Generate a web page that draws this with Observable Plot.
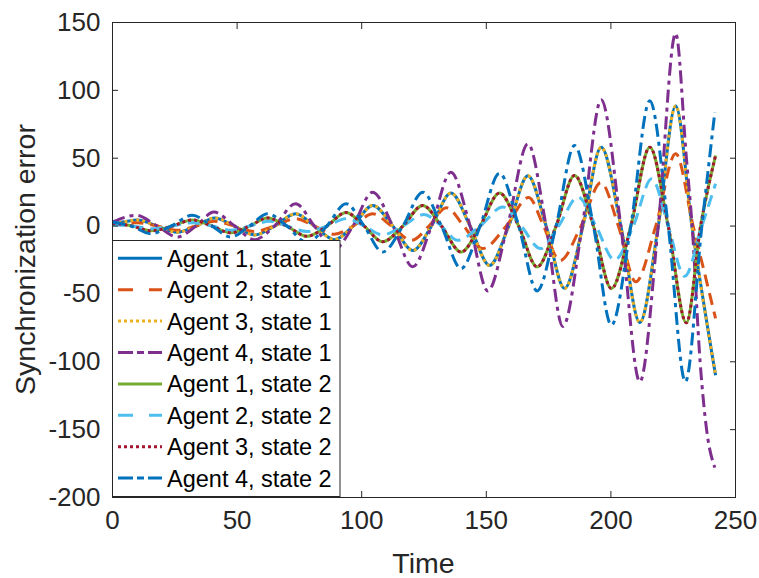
<!DOCTYPE html>
<html>
<head>
<meta charset="utf-8">
<script src="https://cdn.jsdelivr.net/npm/d3@7"></script>
<script src="https://cdn.jsdelivr.net/npm/@observablehq/plot@0.6"></script>
<style>
  html, body { margin: 0; padding: 0; background: #fff; }
  #chart svg { display: block; }
</style>
</head>
<body>
<div id="chart"></div>
<script>
// ---- Data ----
const xTicks = [0, 50, 100, 150, 200, 250];
const yTicks = [-200, -150, -100, -50, 0, 50, 100, 150];
const seriesNames = [
  "Agent 1, state 1", "Agent 2, state 1", "Agent 3, state 1", "Agent 4, state 1",
  "Agent 1, state 2", "Agent 2, state 2", "Agent 3, state 2", "Agent 4, state 2"
];

// Agent 1 / Agent 3, state 1 (overlapping)
const tA = [0, 4, 10, 18, 26, 33.5, 41, 49, 57, 65, 73.5, 81, 89, 96.5, 104.4, 112.5, 120.5, 128, 135.8, 143.5, 151.3, 159, 166.7, 174, 181.4, 188.8, 196.1, 204, 211.6, 219, 226, 232.5, 242];
const vA = [2, 3, 4.5, 0, -4.5, 0, 6, 0, -6.5, 0, 9, 0, -10, 0, 15.2, 0, -18, 0, 24.3, 0, -29, 0, 37, 0, -46, 0, 58, 0, -71, 0, 88.5, 0, -110];

// Agent 2, state 1
const tC = [0, 10, 18, 26, 33.5, 41, 49, 57, 65, 73.5, 81, 89, 96.5, 104.4, 112, 120, 127, 134, 141, 148.5, 158, 167, 173, 179.5, 188, 196, 203, 210, 218, 226, 233, 242];
const vC = [1, 2.5, 0, -3, 0, 3.5, 0, -4, 0, 5.5, 0, -6, 0, 9, 0, -10.5, 0, 13.5, 0, -16.6, 0, 21, 0, -25.5, 0, 32, 0, -41, 0, 53.2, 0, -68];

// Agent 4, state 1
const tE = [0, 9.5, 18, 26, 33.5, 40.7, 49, 57, 65, 73.5, 81, 89, 96.5, 104.4, 112.5, 120.5, 128, 135.8, 143.5, 150.6, 158.5, 166.7, 174, 180.7, 188.5, 196.1, 204, 211.6, 219, 226, 230.3, 232.6, 235.8, 238.4, 241.7];
const vE = [3, 7.9, 0, -8, 0, 10.3, 0, -10, 0, 16.5, 0, -17, 0, 25, 0, -30, 0, 39.7, 0, -47.8, 0, 60.6, 0, -74, 0, 93, 0, -114.7, 0, 142, 50, 0, -100, -150, -178];

// Agent 1 / Agent 3, state 2 (overlapping)
const tB = [0, 8, 15.3, 24, 32, 40, 47.4, 55, 62.2, 70, 78, 86, 93.7, 101, 108.4, 116.5, 124.5, 132, 139.9, 147.5, 155.3, 163, 170.4, 178, 185.4, 193, 200.2, 208, 215.6, 223, 230.3, 236, 242];
const vB = [2, 0, -3.5, 0, 4.5, 0, -5, 0, 6, 0, -7.5, 0, 10, 0, -11.5, 0, 15.2, 0, -19.1, 0, 24.3, 0, -30.1, 0, 37.3, 0, -46, 0, 58.1, 0, -71.3, 0, 52];

// Agent 2, state 2
const tD = [0, 8, 16, 24, 32, 40, 47.4, 55, 63, 70, 78, 86, 94, 101, 108.4, 116.5, 125, 132, 138.5, 147.5, 156.7, 164, 171.8, 179, 186.8, 194, 201.5, 209, 216.4, 223, 229.6, 236.5, 242];
const vD = [1, 0, -2, 0, 2.5, 0, -3, 0, 3.5, 0, -4, 0, 5.5, 0, -6.5, 0, 8.5, 0, -10.5, 0, 14, 0, -16.6, 0, 21.3, 0, -25, 0, 34.8, 0, -37, 0, 31.2];

// Agent 4, state 2
const tF = [0, 7.5, 15.3, 23.5, 32, 40, 47.4, 55, 62.2, 70, 78, 86, 93.7, 101, 108.4, 116.5, 124.5, 132, 139.9, 147.5, 155.3, 163, 170.4, 178, 185.4, 193, 200.2, 208, 215.6, 223, 229.9, 236.5, 241.7];
const vF = [3, 0, -5.6, 0, 7.9, 0, -8, 0, 9.1, 0, -12, 0, 16.5, 0, -19.1, 0, 25, 0, -31.3, 0, 39, 0, -47.8, 0, 59.3, 0, -73, 0, 92.4, 0, -114.7, 0, 83.8];

const seriesTimes  = [tA, tC, tA, tE, tB, tD, tB, tF];
const seriesValues = [vA, vC, vA, vE, vB, vD, vB, vF];

// ---- Styles (MATLAB default palette and line styles) ----
const colors = ["#0072BD", "#D95319", "#EDB120", "#7E2F8E", "#77AC30", "#4DBEEE", "#A2142F", "#0072BD"];
const dashes = [null, "12,7", "3,3", "13,5,4,5", null, "12,7", "3,3", "13,5,4,5"];
const legendDashes = [null, "15,16", "3,3", "15,4,7,4", null, "15,16", "3,3", "15,4,7,4"];

const W = 759, H = 578;
const M = {left: 112, right: 24, top: 22, bottom: 81};
const FONT = "Liberation Sans, Arial, Helvetica, sans-serif";
const INK = "#262626";
const TICK_FS = 26, LABEL_FS = 28.5, LEGEND_FS = 23.5;

const lineMarks = seriesNames.map((name, i) => {
  const data = seriesTimes[i].map((t, j) => ({t, v: seriesValues[i][j]}));
  return Plot.line(data, {
    x: "t", y: "v",
    stroke: colors[i], strokeWidth: 3,
    strokeDasharray: dashes[i],
    strokeLinecap: "butt",
    curve: "monotone-x"
  });
});

const fmt = d => String(d);

const chart = Plot.plot({
  width: W, height: H,
  marginLeft: M.left, marginRight: M.right, marginTop: M.top, marginBottom: M.bottom,
  style: {fontFamily: FONT, fontSize: TICK_FS + "px", color: INK, background: "#fff", overflow: "visible"},
  x: {domain: [0, 250]},
  y: {domain: [-200, 150]},
  marks: [
    ...lineMarks,
    Plot.frame({stroke: INK, strokeWidth: 1}),
    Plot.axisX(xTicks, {anchor: "bottom", tickSize: -6, tickPadding: 19, tickFormat: fmt, label: null, fontSize: TICK_FS, stroke: INK, fill: INK}),
    Plot.axisX(xTicks, {anchor: "top", tickSize: -6, tickFormat: () => "", label: null, stroke: INK}),
    Plot.axisY(yTicks, {anchor: "left", tickSize: -6, tickPadding: 18, tickFormat: fmt, label: null, fontSize: TICK_FS, stroke: INK, fill: INK}),
    Plot.axisY(yTicks, {anchor: "right", tickSize: -6, tickFormat: () => "", label: null, stroke: INK})
  ]
});

document.getElementById("chart").appendChild(chart);

const svg = d3.select(chart);

// Axis titles
svg.append("text")
  .attr("x", (M.left + W - M.right) / 2).attr("y", 563)
  .attr("text-anchor", "middle").attr("dominant-baseline", "central")
  .attr("font-family", FONT).attr("font-size", LABEL_FS).attr("fill", INK)
  .text("Time");
svg.append("text")
  .attr("transform", `translate(25,${(M.top + H - M.bottom) / 2}) rotate(-90)`)
  .attr("text-anchor", "middle").attr("dominant-baseline", "central")
  .attr("font-family", FONT).attr("font-size", LABEL_FS).attr("fill", INK)
  .text("Synchronization error");

// Legend (inside the axes, lower-left)
const lg = svg.append("g");
lg.append("rect")
  .attr("x", 112.5).attr("y", 240.5).attr("width", 227.5).attr("height", 256)
  .attr("fill", "#fff").attr("stroke", INK).attr("stroke-width", 1);
seriesNames.forEach((name, i) => {
  const y = 258.3 + i * 31.4;
  lg.append("line")
    .attr("x1", 118).attr("x2", 162).attr("y1", y).attr("y2", y)
    .attr("stroke", colors[i]).attr("stroke-width", 3)
    .attr("stroke-dasharray", legendDashes[i]);
  lg.append("text")
    .attr("x", 167).attr("y", y).attr("dy", "0.36em")
    .attr("text-anchor", "start")
    .attr("font-family", FONT).attr("font-size", LEGEND_FS).attr("fill", "#000")
    .text(name);
});
</script>
</body>
</html>
